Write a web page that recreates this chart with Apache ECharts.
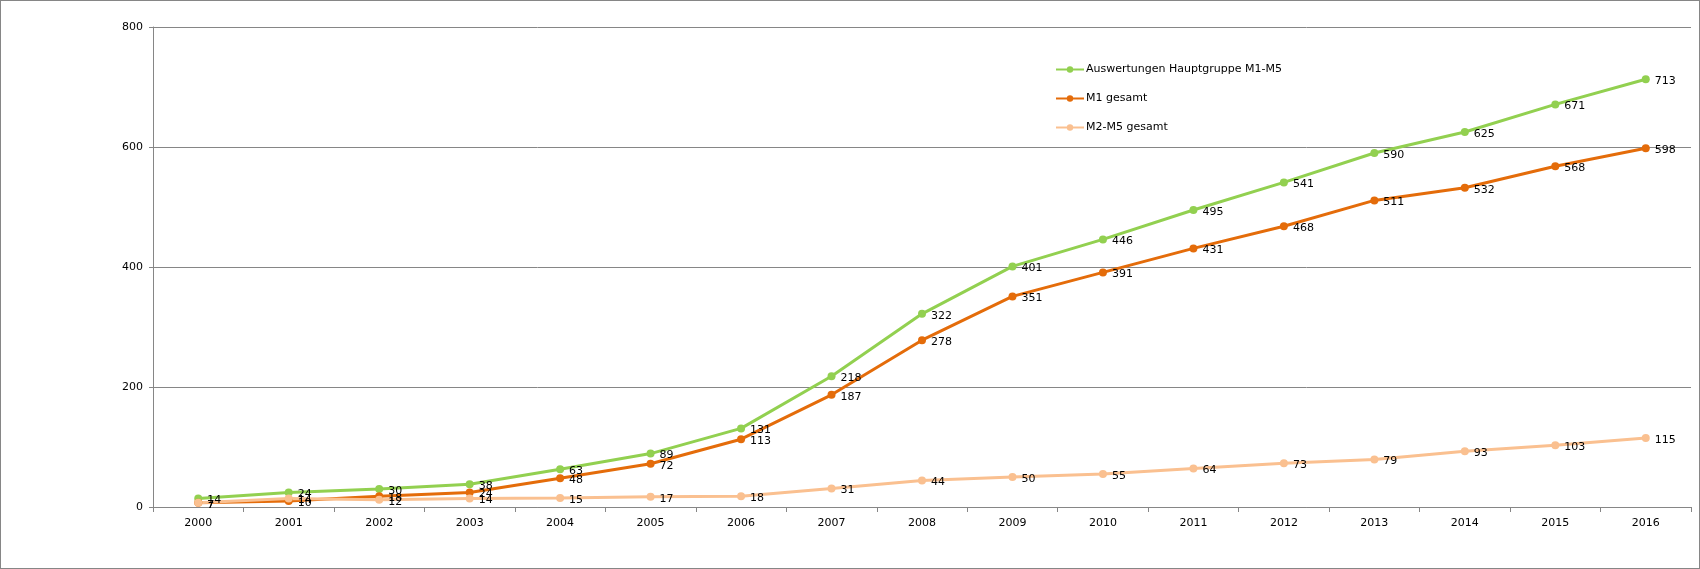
<!DOCTYPE html>
<html>
<head>
<meta charset="utf-8">
<script src="https://cdn.jsdelivr.net/npm/echarts@6/dist/echarts.min.js"></script>
<style>
  html, body { margin: 0; padding: 0; background: #fff; }
  #chart { width: 1700px; height: 569px; box-sizing: border-box; border: 1px solid #868686; }
</style>
</head>
<body>
<div id="chart"></div>
<script>
// Jahre
var years = ['2000', '2001', '2002', '2003', '2004', '2005', '2006', '2007', '2008',
  '2009', '2010', '2011', '2012', '2013', '2014', '2015', '2016'];
// Auswertungen Hauptgruppe M1-M5
var hauptgruppe = [14, 24, 30, 38, 63, 89, 131, 218, 322, 401, 446, 495, 541, 590, 625, 671, 713];
// M1 gesamt
var m1Gesamt = [7, 10, 18, 24, 48, 72, 113, 187, 278, 351, 391, 431, 468, 511, 532, 568, 598];
// M2-M5 gesamt
var m2m5Gesamt = [7, 14, 12, 14, 15, 17, 18, 31, 44, 50, 55, 64, 73, 79, 93, 103, 115];

var font = 'DejaVu Sans';

function lineSeries(name, color, data) {
  return {
    name: name,
    type: 'line',
    data: data,
    symbol: 'circle',
    symbolSize: 8,
    lineStyle: { color: color, width: 3 },
    itemStyle: { color: color },
    label: {
      show: true,
      position: 'right',
      offset: [0, 2],
      color: '#000',
      fontFamily: font,
      fontSize: 11
    }
  };
}

var chart = echarts.init(document.getElementById('chart'));
chart.setOption({
  animation: false,
  textStyle: { fontFamily: font },
  legend: {
    orient: 'vertical',
    left: 1049,
    top: 58,
    itemGap: 18,
    itemWidth: 28,
    itemHeight: 8,
    textStyle: { fontFamily: font, fontSize: 11, color: '#000', padding: [0, 0, 0, -3] },
    data: ['Auswertungen Hauptgruppe M1-M5', 'M1 gesamt', 'M2-M5 gesamt']
  },
  grid: {
    left: 152,
    right: 8,
    top: 26,
    bottom: 61
  },
  xAxis: {
    type: 'category',
    data: years,
    boundaryGap: true,
    axisLine: { lineStyle: { color: '#868686' } },
    axisTick: { show: true, length: 5, lineStyle: { color: '#868686' } },
    axisLabel: { color: '#000', fontFamily: font, fontSize: 11, margin: 11 }
  },
  yAxis: {
    type: 'value',
    min: 0,
    max: 800,
    interval: 200,
    axisLine: { show: true, lineStyle: { color: '#868686' } },
    axisTick: { show: true, length: 4, lineStyle: { color: '#868686' } },
    axisLabel: { color: '#000', fontFamily: font, fontSize: 11, margin: 10 },
    splitLine: { lineStyle: { color: '#868686', width: 1 } }
  },
  series: [
    lineSeries('Auswertungen Hauptgruppe M1-M5', '#92D050', hauptgruppe),
    lineSeries('M1 gesamt', '#E46C0A', m1Gesamt),
    lineSeries('M2-M5 gesamt', '#FAC090', m2m5Gesamt)
  ]
});
</script>
</body>
</html>
